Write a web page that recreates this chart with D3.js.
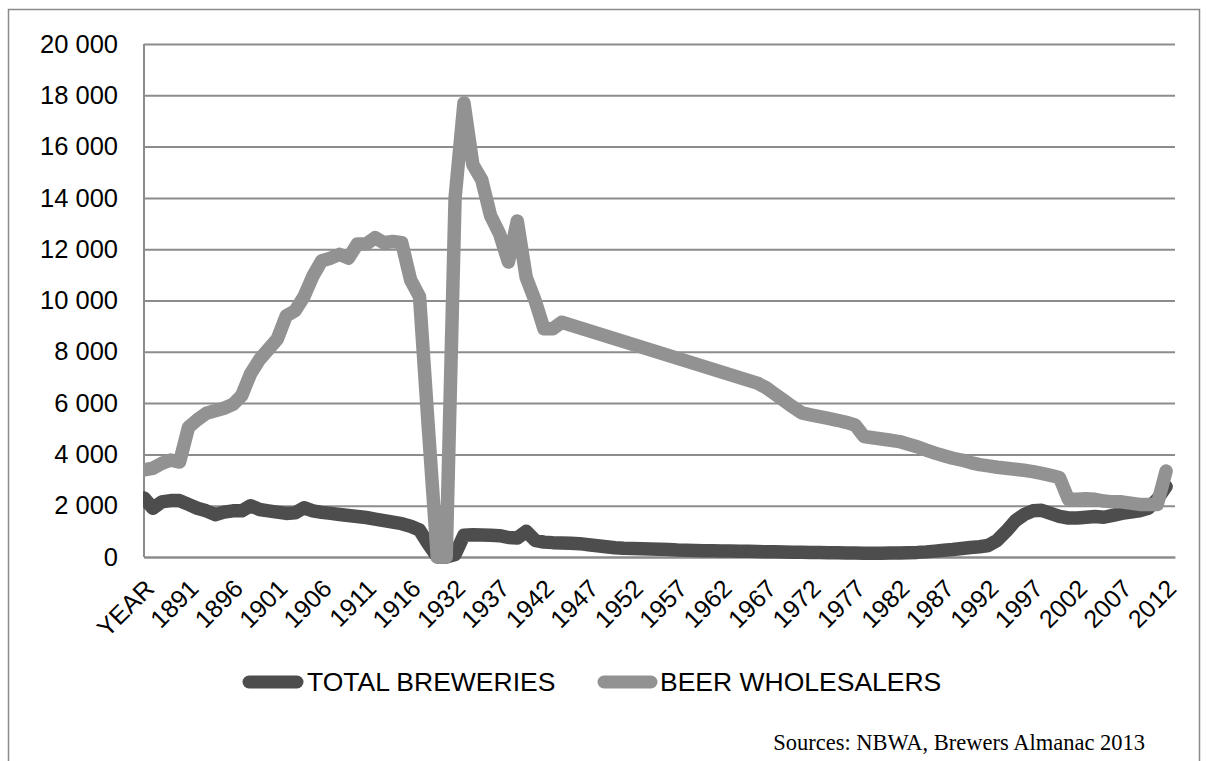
<!DOCTYPE html>
<html>
<head>
<meta charset="utf-8">
<script src="https://cdn.jsdelivr.net/npm/d3@7"></script>
<style>
  html, body { margin: 0; padding: 0; background: #fff; }
  svg { display: block; }
</style>
</head>
<body>
<svg id="chart"></svg>
<script>
// categories: header row "YEAR", 1887-1920, 1932-2013 (last one empty)
const categories = ["YEAR"]
  .concat(d3.range(1887, 1921).map(String))
  .concat(d3.range(1932, 2014).map(String));

const seriesNames = ["TOTAL BREWERIES", "BEER WHOLESALERS"];

const breweries = [
  2300, 1900, 2150, 2200, 2200, 2050, 1900, 1800, 1650, 1750,
  1800, 1800, 2000, 1850, 1800, 1750, 1700, 1720, 1920, 1800,
  1740, 1700, 1660, 1620, 1580, 1540, 1480, 1420, 1360, 1300,
  1200, 1050, 500, 0, 0, 100, 850, 870, 860, 850,
  830, 760, 740, 1000, 650, 580, 560, 550, 540, 520,
  480, 440, 400, 360, 340, 330, 320, 310, 300, 290,
  270, 260, 250, 245, 240, 235, 230, 225, 220, 210,
  205, 200, 195, 190, 185, 180, 175, 170, 165, 160,
  155, 150, 150, 150, 155, 160, 170, 180, 200, 230,
  260, 290, 330, 370, 400, 450, 650, 1000, 1400, 1650,
  1800, 1820, 1700, 1580, 1520, 1520, 1550, 1580, 1550, 1620,
  1700, 1750, 1800, 1900, 2250, 2750, null
];

const wholesalers = [
  3400, 3460, 3650, 3780, 3700, 5050, 5350, 5600, 5700, 5800,
  5950, 6300, 7150, 7700, 8100, 8500, 9400, 9600, 10150, 10950,
  11550, 11650, 11800, 11650, 12200, 12200, 12450, 12250, 12300, 12250,
  10800, 10150, 5000, 0, 0, 14000, 17700, 15300, 14700, 13300,
  12600, 11500, 13100, 10900, 10000, 8900, 8900, 9150, null, null,
  null, null, null, null, null, null, null, null, null, null,
  null, null, null, null, null, null, null, null, null, 6780,
  6600, 6350, 6100, 5850, 5620, 5540, 5470, 5400, 5330, 5250,
  5150, 4700, 4650, 4600, 4550, 4500, 4400, 4300, 4170, 4050,
  3950, 3850, 3780, 3680, 3600, 3550, 3500, 3460, 3420, 3380,
  3330, 3260, 3180, 3100, 2250, 2250, 2270, 2250, 2180, 2150,
  2150, 2100, 2050, 2050, 2050, 3350, null
];

const yTicks = d3.range(0, 20001, 2000);
const sourceNote = "Sources: NBWA, Brewers Almanac 2013";

const W = 1207, H = 761;
const plot = {left: 144, right: 1175, top: 44, bottom: 557};
const colors = ["#4d4d4d", "#929292"];
const font = "'Liberation Sans', Arial, Helvetica, sans-serif";

const svg = d3.select("#chart").attr("width", W).attr("height", H);
svg.append("rect").attr("width", W).attr("height", H).attr("fill", "#fff");

// outer chart border
svg.append("rect")
  .attr("x", 8.5).attr("y", 9.5)
  .attr("width", 1191).attr("height", 800)
  .attr("fill", "none").attr("stroke", "#8a8a8a").attr("stroke-width", 1.5);

const x = d3.scalePoint().domain(categories).range([plot.left, plot.right]);
const y = d3.scaleLinear().domain([0, 20000]).range([plot.bottom, plot.top]);

const fmt = v => d3.format(",")(v).replace(/,/g, " ");

// y axis + gridlines
const yAxis = svg.append("g")
  .attr("transform", "translate(" + plot.left + ",0)")
  .call(d3.axisLeft(y).tickValues(yTicks).tickFormat(fmt)
    .tickSizeInner(-(plot.right - plot.left)).tickSizeOuter(0).tickPadding(26));
yAxis.select(".domain").remove();
yAxis.selectAll("line").attr("stroke", "#8c8c8c").attr("stroke-width", 2);
yAxis.selectAll("text")
  .style("font-family", font).style("font-size", "25.5px").attr("fill", "#000");

// left axis line
svg.append("line")
  .attr("x1", plot.left).attr("x2", plot.left)
  .attr("y1", plot.top).attr("y2", plot.bottom)
  .attr("stroke", "#8c8c8c").attr("stroke-width", 2);

// x axis
const labelCats = categories.filter((d, i) => i % 5 === 0 && i < categories.length - 1);
const xAxis = svg.append("g")
  .attr("transform", "translate(0," + plot.bottom + ")")
  .call(d3.axisBottom(x).tickValues(labelCats).tickSize(0));
xAxis.select(".domain").attr("stroke", "#8c8c8c").attr("stroke-width", 2);
xAxis.selectAll("text")
  .attr("x", 0).attr("y", 0).attr("dy", "0.35em")
  .attr("text-anchor", "end")
  .attr("transform", "translate(5,27) rotate(-45)")
  .style("font-family", font).style("font-size", "25px").attr("fill", "#000");

// lines
const line = d3.line()
  .x(d => x(d.cat))
  .y(d => y(d.v));

[breweries, wholesalers].forEach((vals, k) => {
  const pts = categories.map((c, i) => ({cat: c, v: vals[i]}))
    .filter(d => d.v !== null && d.v !== undefined);
  svg.append("path")
    .datum(pts)
    .attr("d", line)
    .attr("fill", "none")
    .attr("stroke", colors[k])
    .attr("stroke-width", 13.5)
    .attr("stroke-linejoin", "round")
    .attr("stroke-linecap", "round");
});

// cover anything left of the plot area (clipped line start)
svg.append("rect")
  .attr("x", plot.left - 10).attr("y", plot.top)
  .attr("width", 9).attr("height", plot.bottom - plot.top + 6)
  .attr("fill", "#fff");

// legend
const legend = [
  {name: seriesNames[0], x0: 249, x1: 297, tx: 307, color: colors[0]},
  {name: seriesNames[1], x0: 604, x1: 651, tx: 660, color: colors[1]}
];
const lg = svg.append("g");
legend.forEach(d => {
  lg.append("line")
    .attr("x1", d.x0).attr("x2", d.x1).attr("y1", 682).attr("y2", 682)
    .attr("stroke", d.color).attr("stroke-width", 13).attr("stroke-linecap", "round");
  lg.append("text")
    .attr("x", d.tx).attr("y", 682).attr("dy", "0.35em")
    .style("font-family", font).style("font-size", "26.5px")
    .text(d.name);
});

svg.append("text")
  .attr("x", 1145).attr("y", 750)
  .attr("text-anchor", "end")
  .style("font-family", "'Liberation Serif', 'Times New Roman', serif")
  .style("font-size", "22.5px")
  .text(sourceNote);
</script>
</body>
</html>
